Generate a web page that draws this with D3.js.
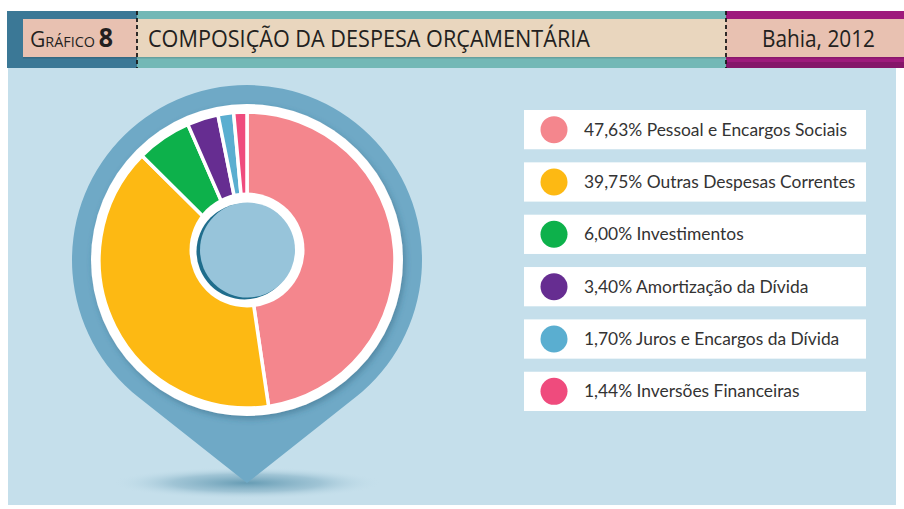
<!DOCTYPE html>
<html>
<head>
<meta charset="utf-8">
<script src="https://cdn.jsdelivr.net/npm/d3@7"></script>
<style>
  html, body { margin: 0; padding: 0; background: #fff; }
  svg { display: block; }
</style>
</head>
<body>
<div id="chart"></div>
<script>
// Gráfico 8 - Composição da despesa orçamentária, Bahia 2012
(function () {
  ///////////////////////////////////////////////////////////// ! Data
  const categories = [
    "Pessoal e Encargos Sociais",
    "Outras Despesas Correntes",
    "Investimentos",
    "Amortização da Dívida",
    "Juros e Encargos da Dívida",
    "Inversões Financeiras",
  ];
  const shares = [47.63, 39.75, 6.0, 3.4, 1.7, 1.44];
  const colors = ["#f4868d", "#fdb913", "#0db14b", "#662d91", "#5aaed0", "#ef4b7d"];

  const chartNumber = "8";
  const chartTitle = "COMPOSIÇÃO DA DESPESA ORÇAMENTÁRIA";
  const chartPlace = "Bahia, 2012";

  ///////////////////////////////////////////////////////////// ! Setup
  const width = 904;
  const height = 509;
  const headFont = "'Open Sans', Lato, sans-serif";
  const textFont = "Lato, 'Open Sans', sans-serif";

  const svg = d3
    .select("#chart")
    .append("svg")
    .attr("width", width)
    .attr("height", height);

  const defs = svg.append("defs");

  // soft shadow under the pin
  const shadowGrad = defs.append("radialGradient").attr("id", "pin-shadow");
  shadowGrad.append("stop").attr("offset", "0%").attr("stop-color", "#3d7f9c").attr("stop-opacity", 0.7);
  shadowGrad.append("stop").attr("offset", "55%").attr("stop-color", "#5b93ad").attr("stop-opacity", 0.35);
  shadowGrad.append("stop").attr("offset", "100%").attr("stop-color", "#c5dfeb").attr("stop-opacity", 0);

  const drop = defs
    .append("filter")
    .attr("id", "drop")
    .attr("x", "-20%").attr("y", "-20%")
    .attr("width", "140%").attr("height", "140%");
  drop
    .append("feDropShadow")
    .attr("dx", 2).attr("dy", 3)
    .attr("stdDeviation", 3)
    .attr("flood-color", "#2b5f78")
    .attr("flood-opacity", 0.45);

  ///////////////////////////////////////////////////////////// ! Header
  svg.append("rect").attr("x", 8).attr("y", 68).attr("width", 888).attr("height", 437).attr("fill", "#c5dfeb");

  svg.append("rect").attr("x", 7).attr("y", 11).attr("width", 130).attr("height", 57).attr("fill", "#3b7896");
  svg.append("rect").attr("x", 137).attr("y", 11).attr("width", 589).attr("height", 57).attr("fill", "#73b8b6");
  svg.append("rect").attr("x", 726).attr("y", 11).attr("width", 178).attr("height", 57).attr("fill", "#9e1a7c");
  svg.append("rect").attr("x", 726).attr("y", 62).attr("width", 178).attr("height", 6).attr("fill", "#85166a");

  // slight shadow under the light boxes
  svg.append("rect").attr("x", 23).attr("y", 20).attr("width", 881).attr("height", 38.5).attr("fill", "#000").attr("opacity", 0.12);
  svg.append("rect").attr("x", 23).attr("y", 19).attr("width", 114).attr("height", 38).attr("fill", "#e8c1b1");
  svg.append("rect").attr("x", 137).attr("y", 19).attr("width", 589).attr("height", 38).attr("fill", "#e9d6be");
  svg.append("rect").attr("x", 726).attr("y", 19).attr("width", 178).attr("height", 38).attr("fill", "#e8c1b1");

  [137, 726].forEach((x) => {
    svg
      .append("line")
      .attr("x1", x).attr("x2", x)
      .attr("y1", 11).attr("y2", 68)
      .attr("stroke", "#1a1a1a")
      .attr("stroke-width", 1.8)
      .attr("stroke-dasharray", "4,3");
  });

  const label = svg
    .append("text")
    .attr("x", 30)
    .attr("y", 47)
    .attr("textLength", 83)
    .attr("lengthAdjust", "spacingAndGlyphs")
    .style("font-family", headFont)
    .style("fill", "#231f20");
  label.append("tspan").style("font-size", "22px").text("G");
  label.append("tspan").style("font-size", "15px").text("RÁFICO ");
  label.append("tspan").style("font-size", "26px").style("font-weight", "bold").text(chartNumber);

  svg
    .append("text")
    .attr("x", 148)
    .attr("y", 47)
    .attr("textLength", 442)
    .attr("lengthAdjust", "spacingAndGlyphs")
    .style("font-family", headFont)
    .style("font-size", "23.5px")
    .style("fill", "#231f20")
    .text(chartTitle);

  svg
    .append("text")
    .attr("x", 762)
    .attr("y", 47)
    .attr("textLength", 113)
    .attr("lengthAdjust", "spacingAndGlyphs")
    .style("font-family", headFont)
    .style("font-size", "23.5px")
    .style("fill", "#231f20")
    .text(chartPlace);

  ///////////////////////////////////////////////////////////// ! Pin
  const cx = 247;
  const cy = 260;
  const pinR = 175;
  const tipY = 483;

  svg
    .append("ellipse")
    .attr("cx", cx)
    .attr("cy", tipY)
    .attr("rx", 135)
    .attr("ry", 16)
    .attr("fill", "url(#pin-shadow)");

  // circle plus tangent lines to the tip
  const d = tipY - cy;
  const a = Math.acos(pinR / d);
  const tx = pinR * Math.sin(a);
  const ty = pinR * Math.cos(a);
  const pinPath = d3.path();
  pinPath.moveTo(cx, tipY);
  pinPath.lineTo(cx - tx, cy + ty);
  pinPath.arc(cx, cy, pinR, Math.PI / 2 + a, Math.PI / 2 - a + 2 * Math.PI);
  pinPath.closePath();
  svg.append("path").attr("d", pinPath.toString()).attr("fill", "#6fa9c6");

  ///////////////////////////////////////////////////////////// ! Donut
  const outerR = 148;
  const g = svg.append("g").attr("transform", `translate(${cx},${cy})`);

  g.append("circle").attr("r", 156).attr("fill", "#fff").attr("filter", "url(#drop)");

  const pie = d3.pie().sort(null).value((v) => v);
  const arc = d3.arc().innerRadius(0).outerRadius(outerR);

  g.selectAll(".slice")
    .data(pie(shares))
    .enter()
    .append("path")
    .attr("class", "slice")
    .attr("d", arc)
    .attr("fill", (p, i) => colors[i])
    .attr("stroke", "#fff")
    .attr("stroke-width", 3.5)
    .attr("stroke-linejoin", "round");

  // hole sits a little above the centre
  const hole = svg.append("g").attr("transform", `translate(${cx},${cy - 10})`);
  hole.append("circle").attr("r", 57.5).attr("fill", "#fff");
  hole.append("circle").attr("cx", -2.5).attr("cy", 1.5).attr("r", 48).attr("fill", "#1f6d8c");
  hole.append("circle").attr("cx", 0.5).attr("r", 47.5).attr("fill", "#97c4da");

  ///////////////////////////////////////////////////////////// ! Legend
  const legendY = d3.scaleBand().domain(categories).range([110, 411]).paddingInner(0.25);

  const rows = svg
    .selectAll(".legend-row")
    .data(categories)
    .enter()
    .append("g")
    .attr("class", "legend-row")
    .attr("transform", (c) => `translate(524,${legendY(c)})`);

  rows
    .append("rect")
    .attr("width", 342)
    .attr("height", legendY.bandwidth())
    .attr("fill", "#fff");

  rows
    .append("circle")
    .attr("cx", 30)
    .attr("cy", legendY.bandwidth() / 2)
    .attr("r", 13.5)
    .attr("fill", (c, i) => colors[i]);

  rows
    .append("text")
    .attr("x", 60)
    .attr("y", legendY.bandwidth() / 2 + 6)
    .style("font-family", textFont)
    .style("font-size", "17.4px")
    .style("fill", "#333")
    .text((c, i) => `${shares[i].toFixed(2).replace(".", ",")}% ${c}`);
})();
</script>
</body>
</html>
